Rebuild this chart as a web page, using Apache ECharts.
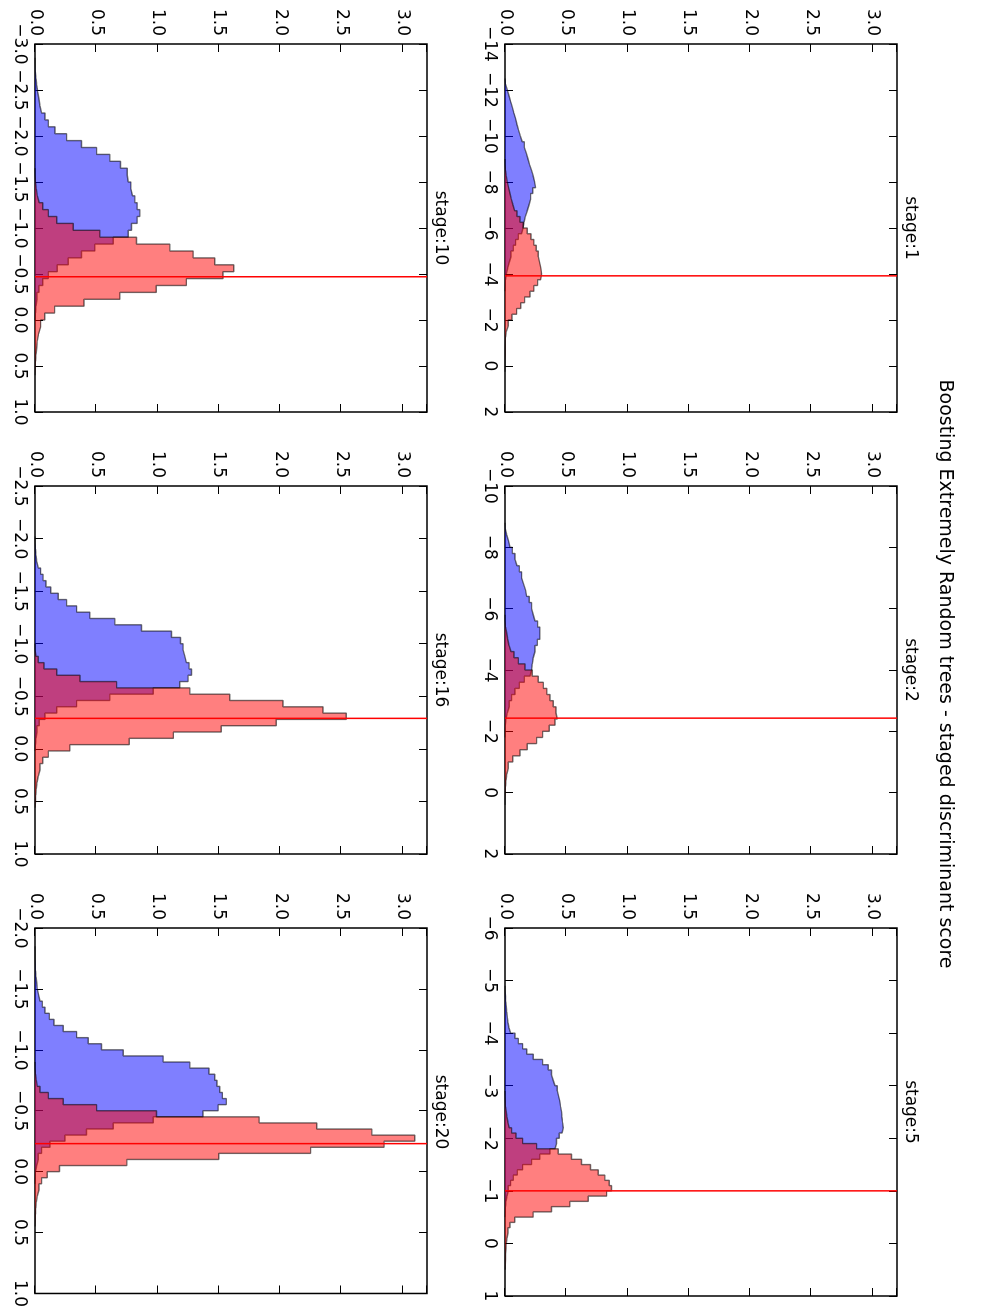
<!DOCTYPE html>
<html>
<head>
<meta charset="utf-8">
<script src="https://cdn.jsdelivr.net/npm/echarts@6/dist/echarts.min.js"></script>
<style>
  html, body { margin: 0; padding: 0; background: #fff; overflow: hidden; width: 990px; height: 1310px; }
  /* the figure is laid out landscape and turned a quarter turn clockwise */
  #chart { position: absolute; left: 0; top: 0; width: 1310px; height: 990px;
           transform-origin: 0 0; transform: translate(990px, 0) rotate(90deg); }
</style>
</head>
<body>
<div id="chart"></div>
<script>
// ---- panels ----
const suptitle = 'Boosting Extremely Random trees - staged discriminant score';
const stageLabels = ['stage:1', 'stage:2', 'stage:5', 'stage:10', 'stage:16', 'stage:20'];
const scoreMin  = [-14, -10, -6, -3, -2.5, -2];
const scoreMax  = [2, 2, 1, 1, 1, 1];
const scoreStep = [2, 2, 1, 0.5, 0.5, 0.5];
const densityMax = 3.2;
const densityStep = 0.5;
const thresholds = [-3.92, -2.43, -1.0, -0.47, -0.29, -0.23];

// ---- histogram bins (first edge, width, density per bin) ----
const binWidths = [0.25, 0.2, 0.1, 0.075, 0.06, 0.05];
const bkgStart = [-12.5, -8.8, -4.9, -2.85, -2.02, -1.85];
const sigStart = [-9.0, -5.8, -2.9, -1.65, -1.0, -0.9];

const bkg1 = [0.005,0.019,0.033,0.046,0.060,0.073,0.087,0.098,0.111,0.125,0.141,0.158,0.174,0.188,0.201,0.217,0.231,0.242,0.250,0.226,0.209,0.196,0.182,0.166,0.155,0.147,0.136,0.109,0.087,0.068,0.049,0.035,0.022,0.011,0.005,0.003,0.001];
const sig1 = [0.001,0.005,0.011,0.019,0.030,0.041,0.052,0.065,0.079,0.098,0.122,0.149,0.182,0.212,0.236,0.255,0.272,0.283,0.293,0.299,0.291,0.266,0.236,0.204,0.160,0.128,0.095,0.057,0.027,0.011,0.005,0.003,0.002,0.0015,0.001,0.001,0.0005];

const bkg2 = [0.003,0.014,0.030,0.041,0.060,0.082,0.098,0.117,0.136,0.152,0.168,0.177,0.198,0.217,0.231,0.245,0.266,0.285,0.285,0.264,0.245,0.231,0.223,0.217,0.204,0.158,0.117,0.082,0.054,0.035,0.019,0.008,0.003,0.001,0.001];
const sig2 = [0.001,0.005,0.014,0.022,0.033,0.049,0.073,0.109,0.163,0.223,0.272,0.313,0.342,0.367,0.394,0.416,0.427,0.408,0.361,0.307,0.258,0.182,0.122,0.063,0.027,0.014,0.008,0.005,0.003,0.001,0.001];

const bkg5 = [0.001,0.004,0.007,0.011,0.014,0.019,0.024,0.033,0.046,0.082,0.109,0.144,0.177,0.231,0.307,0.353,0.380,0.394,0.408,0.427,0.438,0.448,0.454,0.462,0.465,0.470,0.476,0.465,0.443,0.421,0.408,0.367,0.285,0.217,0.144,0.101,0.068,0.046,0.027,0.016,0.008,0.005,0.003,0.001];
const sig5 = [0.001,0.003,0.005,0.011,0.016,0.024,0.035,0.054,0.090,0.144,0.258,0.435,0.543,0.625,0.698,0.761,0.815,0.851,0.870,0.830,0.680,0.530,0.380,0.230,0.080,0.041,0.024,0.016,0.011,0.008,0.005,0.004,0.003,0.002];

const bkg10 = [0.001,0.003,0.008,0.014,0.022,0.033,0.041,0.054,0.082,0.109,0.163,0.258,0.380,0.503,0.611,0.698,0.753,0.761,0.783,0.796,0.815,0.834,0.856,0.834,0.788,0.761,0.639,0.489,0.380,0.272,0.182,0.109,0.063,0.033,0.016,0.008,0.004,0.001];
const sig10 = [0.001,0.005,0.011,0.019,0.035,0.063,0.109,0.177,0.312,0.530,0.829,1.101,1.291,1.467,1.622,1.535,1.236,0.990,0.693,0.400,0.160,0.080,0.046,0.030,0.019,0.014,0.008,0.005,0.003,0.001];

const bkg16 = [0.001,0.004,0.008,0.014,0.027,0.046,0.066,0.090,0.128,0.190,0.258,0.340,0.448,0.652,0.870,1.114,1.188,1.209,1.223,1.236,1.258,1.277,1.250,1.182,0.965,0.611,0.340,0.177,0.082,0.035,0.016,0.008,0.004,0.001];
const sig16 = [0.001,0.008,0.027,0.073,0.177,0.367,0.666,1.264,1.590,2.024,2.351,2.541,1.970,1.520,1.130,0.770,0.285,0.109,0.063,0.041,0.027,0.016,0.011,0.007,0.004,0.001];

const bkg20 = [0.001,0.001,0.003,0.005,0.008,0.014,0.019,0.030,0.041,0.060,0.082,0.117,0.155,0.231,0.340,0.435,0.543,0.720,1.046,1.264,1.421,1.467,1.486,1.508,1.530,1.562,1.495,1.372,0.965,0.639,0.421,0.245,0.122,0.054,0.027,0.014,0.005,0.003,0.001];
const sig20 = [0.001,0.005,0.011,0.019,0.041,0.109,0.231,0.503,0.992,1.830,2.300,2.750,3.100,2.850,2.250,1.500,0.750,0.200,0.100,0.054,0.033,0.019,0.011,0.007,0.004,0.003,0.001];

const bkgDensity = [bkg1, bkg2, bkg5, bkg10, bkg16, bkg20];
const sigDensity = [sig1, sig2, sig5, sig10, sig16, sig20];

// ---- layout of the 2 x 3 panel grid (landscape pixels) ----
const rowTop = [93, 563];
const colLeft = [44, 486, 928];
const panelW = 368, panelH = 392;
const FONT = '"DejaVu Sans", "Liberation Sans", sans-serif';
const FS = 17;

function stepOutline(start, width, vals) {
  const pts = [[start, 0]];
  vals.forEach((v, i) => {
    const a = start + i * width;
    pts.push([a, v], [a + width, v]);
  });
  pts.push([start + vals.length * width, 0]);
  return pts;
}

function tickFormatter(step, decimals) {
  return function (v) {
    const k = v / step;
    if (Math.abs(k - Math.round(k)) > 1e-6) return '';
    let x = Math.round(k) * step;
    if (Math.abs(x) < 1e-9) x = 0;
    return x.toFixed(decimals).replace('-', '\u2212');
  };
}

const grid = [], xAxis = [], yAxis = [], series = [], graphic = [];

stageLabels.forEach((label, i) => {
  const row = i < 3 ? 0 : 1, col = i % 3;
  const left = colLeft[col], top = rowTop[row];
  grid.push({ left, top, width: panelW, height: panelH, show: true,
              borderColor: '#000', borderWidth: 1.5, backgroundColor: 'transparent', containLabel: false });
  const dec = scoreStep[i] < 1 ? 1 : 0;
  const tick = { show: true, inside: true, length: 8, lineStyle: { color: '#000', width: 1 } };
  const common = { type: 'value', gridIndex: i, min: scoreMin[i], max: scoreMax[i], interval: scoreStep[i],
                   axisLine: { show: false, onZero: false }, axisTick: tick, splitLine: { show: false } };
  xAxis.push(Object.assign({}, common, { position: 'bottom',
    axisLabel: { show: true, margin: 7, color: '#000', fontFamily: FONT, fontSize: FS,
                 showMinLabel: true, showMaxLabel: true, formatter: tickFormatter(scoreStep[i], dec) } }));
  xAxis.push(Object.assign({}, common, { position: 'top', axisLabel: { show: false } }));
  const ycommon = { type: 'value', gridIndex: i, min: 0, max: densityMax, interval: densityStep,
                    axisLine: { show: false, onZero: false }, axisTick: tick, splitLine: { show: false } };
  yAxis.push(Object.assign({}, ycommon, { position: 'left',
    axisLabel: { show: true, margin: 8, color: '#000', fontFamily: FONT, fontSize: FS,
                 formatter: tickFormatter(densityStep, 1) } }));
  yAxis.push(Object.assign({}, ycommon, { position: 'right', axisLabel: { show: false } }));

  const xi = 2 * i, yi = 2 * i;
  series.push({ type: 'line', xAxisIndex: xi, yAxisIndex: yi, name: 'background',
    data: stepOutline(bkgStart[i], binWidths[i], bkgDensity[i]),
    showSymbol: false, symbol: 'none', silent: true, z: 2,
    lineStyle: { color: 'rgba(0,0,0,0.55)', width: 1.4 },
    areaStyle: { color: 'rgba(0,0,255,0.5)', opacity: 1 } });
  series.push({ type: 'line', xAxisIndex: xi, yAxisIndex: yi, name: 'signal',
    data: stepOutline(sigStart[i], binWidths[i], sigDensity[i]),
    showSymbol: false, symbol: 'none', silent: true, z: 3,
    lineStyle: { color: 'rgba(0,0,0,0.55)', width: 1.4 },
    areaStyle: { color: 'rgba(255,0,0,0.5)', opacity: 1 } });
  series.push({ type: 'line', xAxisIndex: xi, yAxisIndex: yi, name: 'cut',
    data: [[thresholds[i], 0], [thresholds[i], densityMax]],
    showSymbol: false, symbol: 'none', silent: true, z: 4,
    lineStyle: { color: '#ff0000', width: 1.5 } });

  graphic.push({ type: 'text', x: left + panelW / 2, y: top - 5,
    style: { text: label, fill: '#000', font: FS + 'px ' + FONT, textAlign: 'center', textVerticalAlign: 'bottom' } });
});

graphic.push({ type: 'text', x: 674, y: 45,
  style: { text: suptitle, fill: '#000', font: '19px ' + FONT, textAlign: 'center', textVerticalAlign: 'middle' } });

const chart = echarts.init(document.getElementById('chart'), null, { renderer: 'canvas', width: 1310, height: 990 });
chart.setOption({ animation: false, backgroundColor: '#fff', grid, xAxis, yAxis, series, graphic });
</script>
</body>
</html>
